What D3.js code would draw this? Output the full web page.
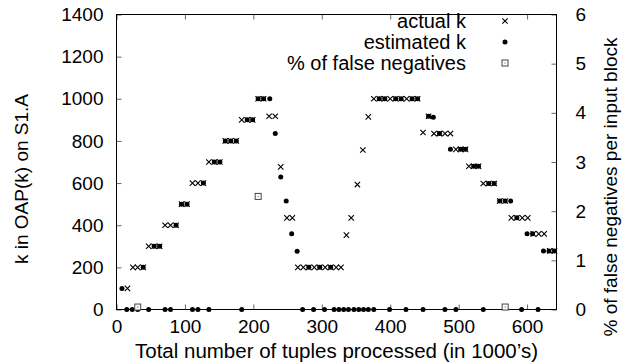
<!DOCTYPE html>
<html>
<head>
<meta charset="utf-8">
<script src="https://cdn.jsdelivr.net/npm/d3@7"></script>
<style>
  html, body { margin: 0; padding: 0; background: #fff; }
  svg { display: block; font-family: "Liberation Sans", Arial, Helvetica, sans-serif; }
</style>
</head>
<body>
<svg id="chart" width="623" height="364"></svg>
<script>
// Tuples processed (1000's) and the actual k at each sample
const actualTuples = [16, 24, 31, 39, 47, 55, 63, 71, 79, 87, 95, 103, 111, 119, 127,
  135, 143, 151, 159, 167, 175, 183, 191, 199, 207, 215, 223, 232, 240, 249, 257,
  265, 273, 281, 289, 297, 305, 313, 321, 328, 336, 343, 352, 360, 368,
  376, 384, 392, 400, 408, 416, 424, 432, 440, 448, 456, 464, 472, 480, 488,
  496, 503, 510, 515, 522, 529, 536, 544, 552, 560, 568, 577, 585, 593, 601,
  609, 617, 625, 633, 640];
const actualK = [100, 200, 200, 200, 300, 300, 300, 400, 400, 400, 500, 500, 600, 600, 600,
  700, 700, 700, 800, 800, 800, 900, 900, 900, 1000, 1000, 917, 917, 677, 435, 435,
  200, 200, 200, 200, 200, 200, 200, 200, 200, 353, 435, 593, 757, 914,
  1000, 1000, 1000, 1000, 1000, 1000, 1000, 1000, 1000, 840, 917, 835, 835, 835, 835,
  760, 760, 760, 680, 680, 680, 598, 598, 598, 515, 515, 435, 435, 435, 435,
  359, 359, 359, 278, 278];

// Estimated k at each sample
const estimatedTuples = [8, 15, 23, 31, 39, 47, 55, 63, 71, 79, 87, 95, 103, 111, 119, 127,
  135, 143, 151, 159, 167, 175, 183, 191, 199, 207, 215, 224, 232, 240, 248, 256, 264,
  272, 281, 288, 297, 304, 313, 318, 325, 332, 339, 347, 354, 361, 368, 376,
  384, 392, 399, 408, 416, 423, 432, 440, 448, 456, 463, 472, 480, 488, 496, 503, 510,
  522, 529, 536, 544, 552, 560, 568, 576, 585, 592, 600, 608, 616, 624, 632, 640];
const estimatedK = [100, 0, 0, 0, 200, 0, 300, 300, 0, 0, 400, 500, 500, 0, 0, 600,
  0, 700, 700, 800, 800, 800, 0, 900, 900, 1000, 1000, 1000, 835, 629, 515, 359, 277,
  0, 200, 0, 200, 0, 200, 0, 0, 0, 0, 0, 0, 0, 0, 0,
  1000, 1000, 0, 1000, 1000, 0, 1000, 1000, 0, 917, 912, 835, 0, 760, 0, 760, 760,
  680, 680, 0, 598, 598, 515, 515, 515, 435, 0, 359, 359, 0, 278, 278, 278];

// Percentage of false negatives per input block (right axis)
const fnTuples = [31, 207, 568];
const fnPercent = [0.05, 2.3, 0.05];

const xTicks = [0, 100, 200, 300, 400, 500, 600];
const kTicks = [0, 200, 400, 600, 800, 1000, 1200, 1400];
const pctTicks = [0, 1, 2, 3, 4, 5, 6];

const legendLabels = ["actual k", "estimated k", "% of false negatives"];

const svg = d3.select("#chart");
const plotLeft = 116.5, plotRight = 556.5, plotTop = 14.5, plotBottom = 309.5;

const x = d3.scaleLinear().domain([0, 643]).range([plotLeft, plotRight]);
const y = d3.scaleLinear().domain([0, 1400]).range([plotBottom, plotTop]);
const y2 = d3.scaleLinear().domain([0, 6]).range([plotBottom, plotTop]);

const FONT = 19;
const fmt = d3.format("d");

function styleAxis(g) {
  g.select(".domain").remove();
  g.selectAll(".tick line").attr("stroke", "#666").attr("stroke-width", 1);
  g.selectAll(".tick text").attr("fill", "#000").attr("font-size", FONT)
    .attr("font-family", "Liberation Sans, Arial, sans-serif");
}

// bottom axis with inward ticks
svg.append("g").attr("transform", `translate(0,${plotBottom})`)
  .call(d3.axisBottom(x).tickValues(xTicks).tickFormat(fmt).tickSize(-5).tickSizeOuter(0).tickPadding(10))
  .call(styleAxis);
// mirrored ticks on top border
svg.append("g").attr("transform", `translate(0,${plotTop})`)
  .call(d3.axisTop(x).tickValues(xTicks).tickSize(-5).tickSizeOuter(0).tickFormat(""))
  .call(styleAxis);
// left k axis
svg.append("g").attr("transform", `translate(${plotLeft},0)`)
  .call(d3.axisLeft(y).tickValues(kTicks).tickFormat(fmt).tickSize(-5).tickSizeOuter(0).tickPadding(13))
  .call(styleAxis);
// right percentage axis
svg.append("g").attr("transform", `translate(${plotRight},0)`)
  .call(d3.axisRight(y2).tickValues(pctTicks).tickFormat(fmt).tickSize(-5).tickSizeOuter(0).tickPadding(19))
  .call(styleAxis);

// plot frame
svg.append("rect")
  .attr("x", plotLeft).attr("y", plotTop)
  .attr("width", plotRight - plotLeft).attr("height", plotBottom - plotTop)
  .attr("fill", "none").attr("stroke", "#000").attr("stroke-width", 1);

// marker painters
const crossPath = s => `M${-s},${-s}L${s},${s}M${-s},${s}L${s},${-s}`;

function drawCross(g, cx, cy) {
  g.append("path").attr("transform", `translate(${cx},${cy})`)
    .attr("d", crossPath(2.7)).attr("stroke", "#000").attr("stroke-width", 1.1).attr("fill", "none");
}
function drawDot(g, cx, cy) {
  g.append("circle").attr("cx", cx).attr("cy", cy).attr("r", 2.5).attr("fill", "#000");
}
function drawSquare(g, cx, cy) {
  g.append("rect").attr("x", cx - 3).attr("y", cy - 3).attr("width", 6).attr("height", 6)
    .attr("fill", "#fff").attr("stroke", "#444").attr("stroke-width", 1);
  g.append("rect").attr("x", cx - 0.5).attr("y", cy - 0.5).attr("width", 1).attr("height", 1)
    .attr("fill", "#444");
}

const marks = svg.append("g");
const actualG = marks.append("g");
actualTuples.forEach((t, i) => drawCross(actualG, x(t), y(actualK[i])));
const estG = marks.append("g");
estimatedTuples.forEach((t, i) => drawDot(estG, x(t), y(estimatedK[i])));
const fnG = marks.append("g");
fnTuples.forEach((t, i) => drawSquare(fnG, x(t), y2(fnPercent[i])));

// legend
const legend = svg.append("g");
const legendY = [21, 42, 63];
const painters = [drawCross, drawDot, drawSquare];
legendLabels.forEach((lab, i) => {
  legend.append("text")
    .attr("x", 466).attr("y", legendY[i]).attr("dy", "0.35em")
    .attr("text-anchor", "end").attr("font-size", 20).text(lab);
  painters[i](legend, 505, legendY[i]);
});

// axis titles
svg.append("text")
  .attr("x", (plotLeft + plotRight) / 2).attr("y", 358)
  .attr("text-anchor", "middle").attr("font-size", 20.5)
  .text("Total number of tuples processed (in 1000\u2019s)");

svg.append("text")
  .attr("transform", "translate(28,179) rotate(-90)")
  .attr("text-anchor", "middle").attr("font-size", 19)
  .text("k in OAP(k) on S1.A");

svg.append("text")
  .attr("transform", "translate(617,187) rotate(-90)")
  .attr("text-anchor", "middle").attr("font-size", 19)
  .text("% of false negatives per input block");
</script>
</body>
</html>
